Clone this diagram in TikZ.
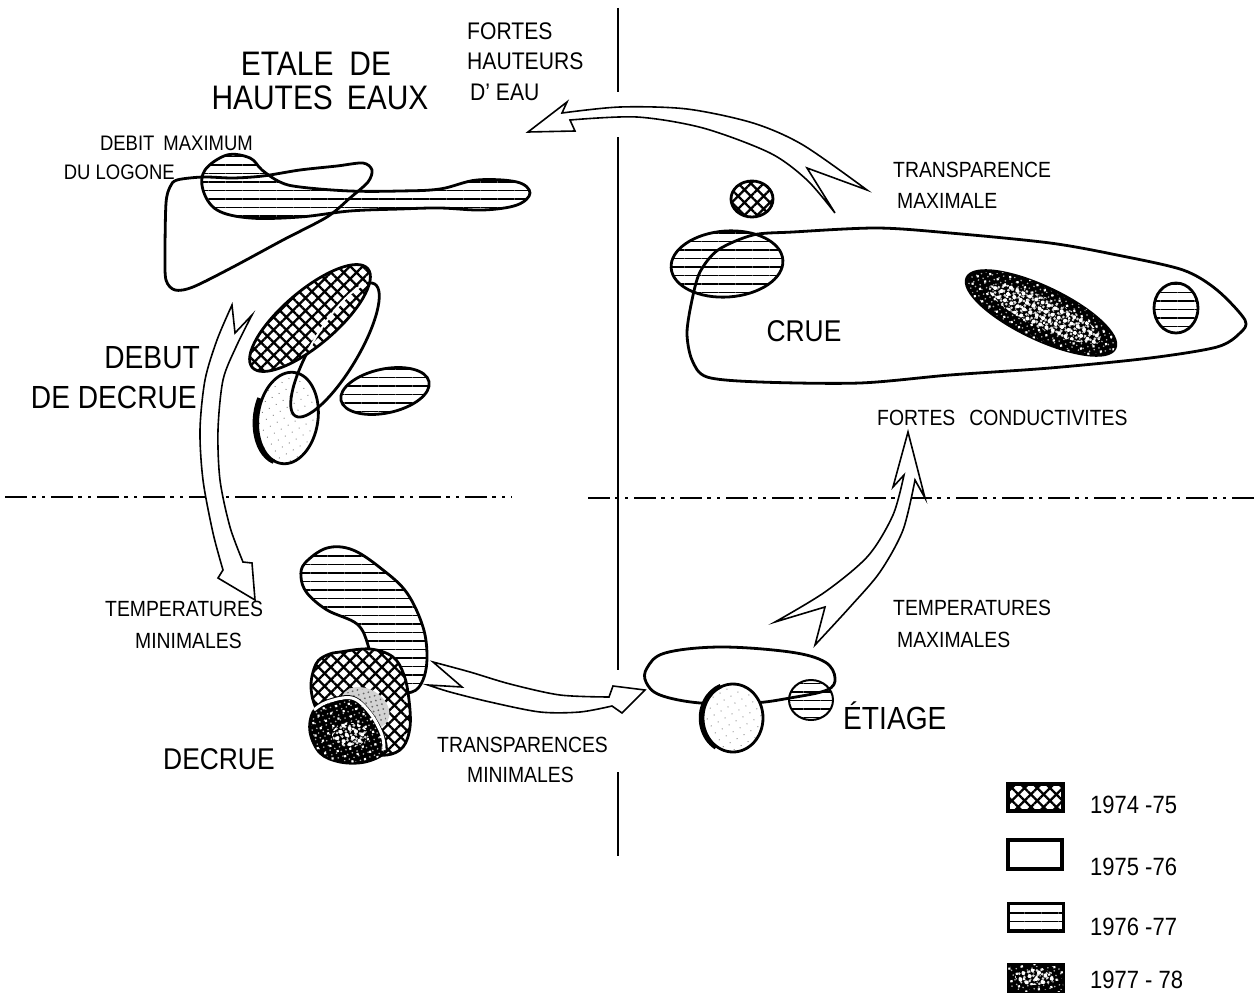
\documentclass[tikz,border=0pt]{standalone}
\usepackage{fontspec}
\setmainfont{Liberation Sans}[FakeStretch=0.88]
\usetikzlibrary{patterns.meta}
\tikzset{
  outl/.style={draw=black, line width=2.8pt, line join=round},
  thinout/.style={draw=black, line width=2pt, line join=round},
  hlin/.style={pattern={Lines[angle=0,distance=8.5pt,line width=1.1pt]}, pattern color=black},
  xhat/.style={pattern={Hatch[angle=45,distance=9pt,line width=2.3pt]}, pattern color=black},
  dark/.style={preaction={fill=black}, pattern={Dots[distance=5pt,radius=0.9pt,angle=20]}, pattern color=gray!60,
    postaction={pattern={Dots[distance=9pt,radius=1.5pt,angle=-35]}, pattern color=white}},
  mottle/.style={pattern={Dots[distance=4.5pt,radius=1.5pt,angle=10]}, pattern color=white!85!black,
    postaction={pattern={Dots[distance=7pt,radius=2pt,angle=-25]}, pattern color=white}},
  lspeck/.style={preaction={fill=white}, pattern={Dots[distance=8pt,radius=0.6pt,angle=30]}, pattern color=black!60},
  arr/.style={draw=black, fill=white, line width=1.6pt, line join=miter},
  divider/.style={black, line width=1.2pt, dash pattern=on 22pt off 5pt on 4pt off 6pt on 3pt off 6pt},
  vline/.style={black, line width=1.4pt},
  lab/.style={inner sep=0pt, anchor=west, font=\fontsize{22}{22}\selectfont},
  big/.style={inner sep=0pt, font=\fontsize{32}{32}\selectfont},
  leg/.style={inner sep=0pt, anchor=west, font=\fontsize{25}{25}\selectfont},
}
\begin{document}
\begin{tikzpicture}[x=1pt,y=-1pt]
\useasboundingbox[fill=white] (0,0) rectangle (1254,998);

% dividers
\draw[divider] (5,497) -- (512,497);
\draw[divider] (588,498) -- (1254,498);
\draw[vline] (618,8) -- (618,92);
\draw[vline] (618,137) -- (618,670);
\draw[vline] (618,772) -- (618,856);

% ---- ETALE DE HAUTES EAUX group
\path[hlin, preaction={fill=white}, outl] plot[smooth cycle, tension=0.6] coordinates {(227,155) (250,158) (262,170) (280,182) (300,187) (350,191) (400,191) (440,189) (477,180) (517,182) (530,193) (517,205) (483,210) (440,208) (400,209) (350,211) (300,217) (250,218) (217,210) (203,190) (205,170)};
\draw[outl] plot[smooth cycle, tension=0.5] coordinates {(177,180) (203,177) (233,178) (263,176) (300,170) (337,166) (363,163) (372,170) (368,182) (350,198) (327,217) (283,240) (233,267) (193,287) (175,290) (166,280) (165,253) (166,203) (170,187)};

% ---- DEBUT DE DECRUE group
\path[lspeck, outl, rotate around={-8:(288,418)}] (288,418) ellipse [x radius=30, y radius=46];
\draw[outl, line width=4.5pt, rotate around={-8:(288,418)}] (288,418) ++(100:46) arc[start angle=100, end angle=200, x radius=30, y radius=46];
\draw[outl, rotate around={59:(335,350)}] (335,350) ellipse [x radius=77, y radius=23];
\path[xhat, preaction={fill=white}, outl, rotate around={40.5:(310,318)}] (310,318) ellipse [x radius=76, y radius=27];
\begin{scope}
  \clip[rotate around={40.5:(310,318)}] (310,318) ellipse [x radius=72, y radius=23];
  \draw[white, line width=2pt, rotate around={59:(335,350)}] (335,350) ellipse [x radius=77, y radius=23];
\end{scope}
\path[hlin, preaction={fill=white}, outl, rotate around={12:(385,391)}] (385,391) ellipse [x radius=45, y radius=22];

% ---- DECRUE group
\path[hlin, preaction={fill=white}, outl] plot[smooth cycle, tension=0.6] coordinates {(305,563) (327,548) (353,550) (383,570) (407,593) (423,627) (427,657) (423,680) (412,692) (390,690) (372,670) (368,645) (357,624) (327,610) (307,593) (301,577)};
\path[xhat, preaction={fill=white}, outl] plot[smooth cycle, tension=0.6] coordinates {(340,652) (370,649) (393,657) (404,675) (409,700) (410,727) (403,747) (387,755) (365,752) (340,738) (318,712) (311,687) (316,664) (327,655)};
\fill[gray!35, rotate around={-30:(365,708)}] (365,708) ellipse [x radius=26, y radius=19];
\path[pattern={Dots[distance=5pt,radius=1pt,angle=15]}, pattern color=black!60, rotate around={-30:(365,708)}] (365,708) ellipse [x radius=24, y radius=17];
\path[dark, outl] plot[smooth cycle, tension=0.6] coordinates {(327,701) (352,697) (370,712) (383,735) (385,752) (365,762) (340,762) (320,753) (310,732) (313,712)};
\path[mottle] (350,735) ellipse [x radius=18, y radius=12];
\draw[white, line width=3pt] plot[smooth, tension=0.6] coordinates {(314,710) (327,702) (352,698) (370,713) (382,735) (384,750)};

% ---- ETIAGE group
\draw[outl] plot[smooth cycle, tension=0.6] coordinates {(647,668) (665,653) (720,647) (790,652) (825,662) (835,678) (827,690) (790,698) (753,703) (700,703) (660,695) (646,682)};
\path[lspeck, outl] (733,718) ellipse [x radius=30, y radius=34];
\draw[outl, line width=4.5pt] (733,718) ++(120:34) arc[start angle=120, end angle=250, x radius=30, y radius=34];
\path[hlin, thinout] (811,700) ellipse [x radius=22, y radius=20];

% ---- CRUE group
\path[hlin, preaction={fill=white}, outl, rotate around={4:(727,264)}] (727,264) ellipse [x radius=56, y radius=33];
\draw[outl] plot[smooth cycle, tension=0.5] coordinates {(692,300) (700,272) (718,250) (753,235) (793,232) (877,228) (950,233) (1050,243) (1117,255) (1183,270) (1217,290) (1245,320) (1240,333) (1217,347) (1150,358) (1050,368) (950,375) (860,383) (760,382) (707,377) (692,360) (687,333)};
\path[xhat, preaction={fill=white}, outl] (752,199) ellipse [x radius=21, y radius=18];
\path[dark, outl, rotate around={-25.5:(1041,313)}] (1041,313) ellipse [x radius=82, y radius=26];
\path[mottle, rotate around={-25.5:(1041,313)}] (1045,312) ellipse [x radius=62, y radius=15];
\path[hlin, preaction={fill=white}, outl] (1176,308) ellipse [x radius=22, y radius=25];

% ---- arrows
\draw[arr] (528,132) -- (567,102) -- (562,113) -- plot[smooth] coordinates {(562,113) (620,107) (687,109) (753,123) (803,145) (867,190)} -- (807,168) -- (835,213) -- plot[smooth] coordinates {(835,213) (807,180) (770,153) (703,128) (637,117) (570,120)} -- (575,131) -- cycle;
\draw[arr] (255,600) -- (218,578) -- (223,570) -- plot[smooth] coordinates {(223,570) (213,533) (203,480) (200,430) (205,380) (217,340) (232,305)} -- (235,333) -- (252,315) -- plot[smooth] coordinates {(252,315) (236,347) (223,380) (218,430) (220,480) (230,527) (243,562)} -- (252,563) -- cycle;
\draw[arr] (645,690) -- (622,713) -- (612,706) -- plot[smooth] coordinates {(612,706) (580,712) (540,712) (490,702) (450,692) (428,685)} -- (462,687) -- (433,662) -- plot[smooth] coordinates {(433,662) (470,672) (510,684) (560,695) (609,697)} -- (613,686) -- cycle;
\draw[arr] (908,432) -- (925,498) -- (915,480) -- plot[smooth] coordinates {(915,480) (903,530) (880,572) (850,607) (815,645)} -- (825,607) -- (775,622) -- plot[smooth] coordinates {(775,622) (825,592) (868,556) (893,515) (904,475)} -- (893,487) -- cycle;

% ---- texts
\node[big, font=\fontsize{34}{34}\selectfont] (etale) at (316,64) {ETALE\hspace{16pt}DE};
\node[big, font=\fontsize{34}{34}\selectfont] (hautes) at (320,98) {HAUTES\hspace{14pt}EAUX};
\node[lab, font=\fontsize{24}{24}\selectfont] (fortes) at (467,31) {FORTES};
\node[lab, font=\fontsize{24}{24}\selectfont] (hauteurs) at (467,61) {HAUTEURS};
\node[lab, font=\fontsize{24}{24}\selectfont, anchor=base west] (deau) at (470,101) {D’ EAU};
\node[lab, font=\fontsize{21}{21}\selectfont, anchor=east] (debit) at (253,143) {DEBIT\hspace{9pt}MAXIMUM};
\node[lab, font=\fontsize{21}{21}\selectfont, anchor=east] (logone) at (175,172) {DU LOGONE};
\node[lab] (transp) at (893,170) {TRANSPARENCE};
\node[lab] (maxim) at (897,201) {MAXIMALE};
\node[big, font=\fontsize{30}{30}\selectfont] (crue) at (804,331) {CRUE};
\node[lab] (cond) at (877,418) {FORTES\hspace{14pt}CONDUCTIVITES};
\node[big, anchor=east] (debut) at (200,358) {DEBUT};
\node[big, anchor=east] (dedecrue) at (197,397) {DE DECRUE};
\node[lab] (tempmin) at (105,609) {TEMPERATURES};
\node[lab] (minim) at (135,641) {MINIMALES};
\node[big, font=\fontsize{30}{30}\selectfont, anchor=west] (decrue) at (163,759) {DECRUE};
\node[lab] (transps) at (437,745) {TRANSPARENCES};
\node[lab] (minim2) at (467,775) {MINIMALES};
\node[lab] (tempmax) at (893,608) {TEMPERATURES};
\node[lab] (maxims) at (897,640) {MAXIMALES};
\node[big, anchor=base west] (etiage) at (843,729) {ÉTIAGE};

% ---- legend
\path[xhat, preaction={fill=white}, draw=black, line width=3.2pt] (1008,784) rectangle (1063,811);
\path[draw=black, line width=3.2pt] (1008,840) rectangle (1062,869);
\path[hlin, draw=black, line width=3pt] (1008,903) rectangle (1063,931);
\path[dark, draw=black, line width=3pt] (1008,964) rectangle (1063,991);
\path[mottle] (1035,977) ellipse [x radius=20, y radius=8];
\node[leg] (l1) at (1090,805) {1974 -75};
\node[leg] (l2) at (1090,867) {1975 -76};
\node[leg] (l3) at (1090,927) {1976 -77};
\node[leg] (l4) at (1090,980) {1977 - 78};
\end{tikzpicture}
\end{document}
